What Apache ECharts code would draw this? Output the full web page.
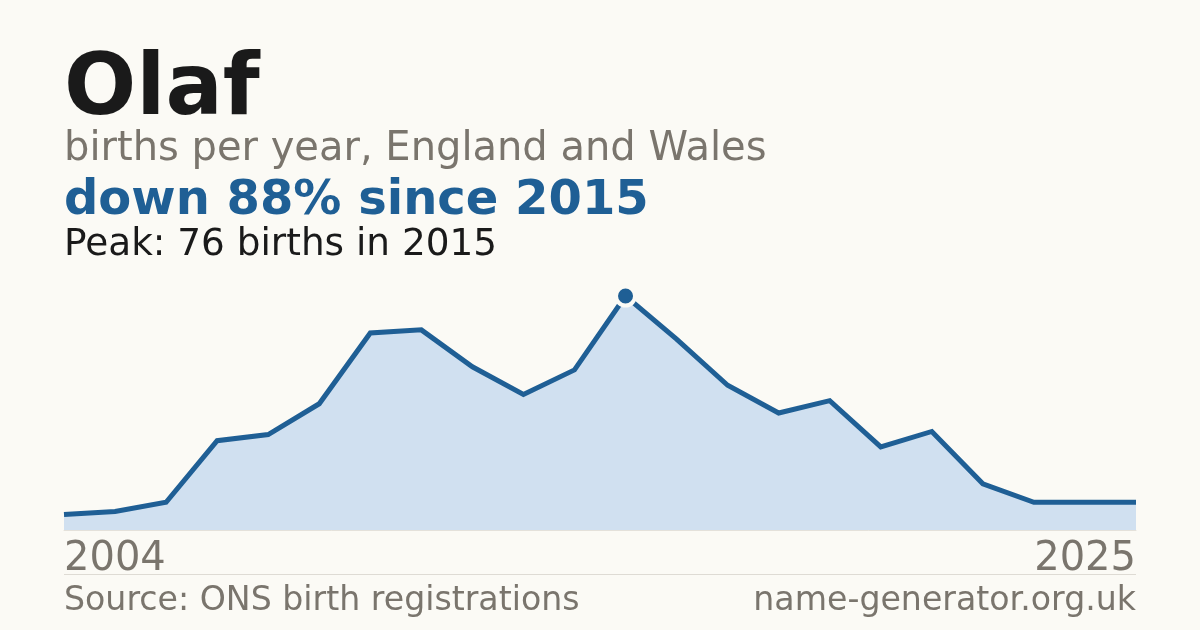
<!DOCTYPE html>
<html><head><meta charset="utf-8">
<script src="https://cdn.jsdelivr.net/npm/echarts@6/dist/echarts.min.js"></script>
<style>html,body{margin:0;padding:0;background:#fbfaf5}#c{width:1200px;height:630px}</style>
</head><body><div id="c"></div>
<script>
const years = ["2004","2005","2006","2007","2008","2009","2010","2011","2012","2013","2014","2015","2016","2017","2018","2019","2020","2021","2022","2023","2024","2025"];
const births = [5,6,9,29,31,41,64,65,53,44,52,76,62,47,38,42,27,32,15,9,9,9];
const titleText = "Olaf";
const subtitleText = "births per year, England and Wales";
const headlineText = "down 88% since 2015";
const peakText = "Peak: 76 births in 2015";
const sourceText = "Source: ONS birth registrations";
const siteText = "name-generator.org.uk";

const peakVal = Math.max(...births);
const peakIdx = births.indexOf(peakVal);
const FONT = "DejaVu Sans";
const chart = echarts.init(document.getElementById('c'));
chart.setOption({
  backgroundColor: '#fbfaf5',
  animation: false,
  grid: {left: 64, right: 64, top: 296, bottom: 100},
  xAxis: {
    type: 'category', data: years, boundaryGap: false,
    axisLine: {show: true, lineStyle: {color: '#e4e1da', width: 1}},
    axisTick: {show: false},
    splitLine: {show: false},
    axisLabel: {
      interval: (i) => i === 0 || i === years.length - 1,
      fontFamily: FONT, fontSize: 40, color: '#7a756d', margin: 10,
      alignMinLabel: 'left', alignMaxLabel: 'right'
    }
  },
  yAxis: {type: 'value', min: 0, max: peakVal, show: false, splitLine: {show: false}},
  series: [
    {
      type: 'line', data: births, symbol: 'none',
      lineStyle: {color: '#1f5f95', width: 5, cap: 'butt', join: 'miter'},
      areaStyle: {color: '#d0e0f0', opacity: 1},
      z: 2
    },
    {
      type: 'scatter', data: [[peakIdx, peakVal]], symbol: 'circle', symbolSize: 19,
      itemStyle: {color: '#1f5f95', borderColor: '#fbfaf5', borderWidth: 4, opacity: 1},
      emphasis: {disabled: true},
      z: 3
    }
  ],
  graphic: [
    {type: 'text', left: 64, top: 49, style: {text: titleText, font: `bold 85px "${FONT}"`, fill: '#1a1a1a'}},
    {type: 'text', left: 64, top: 130, style: {text: subtitleText, font: `40px "${FONT}"`, fill: '#7a756d'}},
    {type: 'text', left: 64, top: 178, style: {text: headlineText, font: `bold 48px "${FONT}"`, fill: '#1f5f95'}},
    {type: 'text', left: 64, top: 227, style: {text: peakText, font: `37.4px "${FONT}"`, fill: '#1a1a1a'}},
    {type: 'line', shape: {x1: 64, y1: 574.5, x2: 1136, y2: 574.5}, style: {stroke: '#dedbd4', lineWidth: 1}},
    {type: 'text', left: 64, top: 585, style: {text: sourceText, font: `33.2px "${FONT}"`, fill: '#7a756d'}},
    {type: 'text', right: 64, top: 585, style: {text: siteText, font: `33.2px "${FONT}"`, fill: '#7a756d'}}
  ]
});
</script></body></html>
